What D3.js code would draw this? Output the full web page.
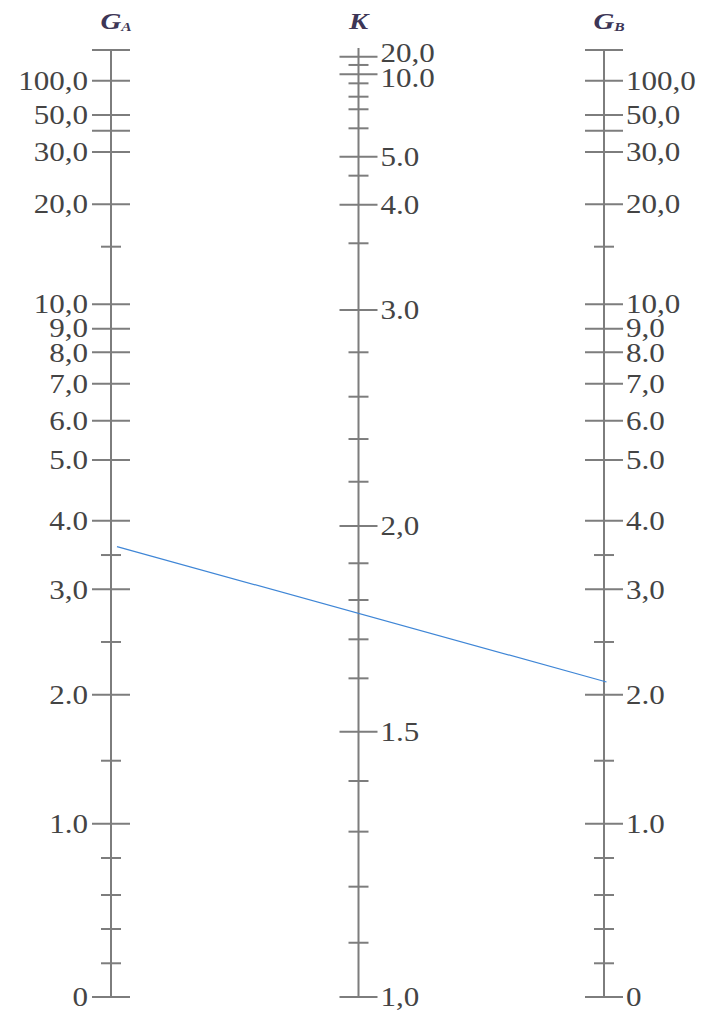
<!DOCTYPE html>
<html><head><meta charset="utf-8">
<script src="https://cdn.jsdelivr.net/npm/d3@7"></script>
<style>html,body{margin:0;padding:0;background:#fff;}svg{display:block;}</style>
</head><body>
<svg id="chart" width="709" height="1010"></svg>
<script>
// ---- Data ----
// G scale (both G_A and G_B)
const gMajorTicks = [0, 1, 2, 3, 4, 5, 6, 7, 8, 9, 10, 20, 30, 40, 50, 100, Infinity];
const gMinorTicks = [0.2, 0.4, 0.6, 0.8, 1.5, 2.5, 3.5, 15];
const gLabelValues = [100, 50, 30, 20, 10, 9, 8, 7, 6, 5, 4, 3, 2, 1, 0];
const gaLabels = ["100,0", "50,0", "30,0", "20,0", "10,0", "9,0", "8,0", "7,0", "6.0", "5.0", "4.0", "3,0", "2.0", "1.0", "0"];
const gbLabels = ["100,0", "50,0", "30,0", "20,0", "10,0", "9,0", "8.0", "7,0", "6.0", "5.0", "4.0", "3,0", "2.0", "1.0", "0"];
// K scale
const kMajorTicks = [1.0, 1.5, 2.0, 3.0, 4.0, 5.0, 10, 20];
const kMinorTicks = [1.1, 1.2, 1.3, 1.4, 1.6, 1.7, 1.8, 1.9, 2.2, 2.4, 2.6, 2.8, 3.5, 4.5, 6, 7, 8, 9, 15];
const kLabelValues = [20, 10, 5, 4, 3, 2, 1.5, 1];
const kLabels = ["20,0", "10.0", "5.0", "4.0", "3.0", "2,0", "1.5", "1,0"];
// Example alignment line
const exampleGA = 3.64;
const exampleGB = 2.12;

// ---- Nomograph scale calibration (value -> fraction of scale height) ----
const gKnots = [0, 0.2, 0.4, 0.6, 0.8, 1, 1.5, 2, 2.5, 3, 3.5, 4, 5, 6, 7, 8, 9, 10, 15, 20, 30, 40, 50, 100, Infinity];
const gKnotFrac = [0, 0.0356, 0.0718, 0.1077, 0.1468, 0.1830, 0.2495, 0.3192, 0.3749, 0.4305, 0.4667, 0.5030, 0.5671, 0.6086, 0.6476, 0.6808, 0.7057, 0.7315, 0.7923, 0.8371, 0.8923, 0.9148, 0.9314, 0.9676, 1];
const kKnots = [1.0, 1.1, 1.2, 1.3, 1.4, 1.5, 1.6, 1.7, 1.8, 1.9, 2.0, 2.2, 2.4, 2.6, 2.8, 3.0, 3.5, 4.0, 4.5, 5, 6, 7, 8, 9, 10, 15, 20, Infinity];
const kKnotFrac = [0, 0.0573, 0.1165, 0.1746, 0.2281, 0.2801, 0.3365, 0.3777, 0.4192, 0.4580, 0.4974, 0.5441, 0.5892, 0.6339, 0.6808, 0.7254, 0.7959, 0.8366, 0.8673, 0.8873, 0.9173, 0.9374, 0.9507, 0.9648, 0.9743, 0.9842, 0.9929, 1.002];

const tG = v => v === Infinity ? 1 : v / (v + 4);
const tK = v => v === Infinity ? 1 : 1 - 1 / v;

const svg = d3.select("#chart");
const yFrac = d3.scaleLinear().domain([0, 1]).range([997, 50]);
const gPiece = d3.scaleLinear().domain(gKnots.map(tG)).range(gKnotFrac);
const kPiece = d3.scaleLinear().domain(kKnots.map(tK)).range(kKnotFrac);
const yG = v => yFrac(gPiece(tG(v)));
const yK = v => yFrac(kPiece(tK(v)));

const xA = 111, xK = 358.5, xB = 604;
const axisColor = "#7d7d7d";
const textColor = "#444444";
const fontFam = "'Liberation Serif','Times New Roman',serif";
const majorLen = 19, minorLen = 10;
const stretch = 1.15;

function spreadLabels(items, minGap) {
  for (let i = 0; i < items.length - 1; i++) {
    const a = items[i], b = items[i + 1];
    const gap = b.y - a.y;
    if (gap < minGap) {
      const d = (minGap - gap) / 2;
      a.y -= d; b.y += d;
    }
  }
  return items;
}

function drawAxis(x, yScale, topVal, botVal, majors, minors, labelVals, labels, side) {
  const g = svg.append("g");
  g.append("line").attr("x1", x).attr("x2", x)
    .attr("y1", yScale(topVal)).attr("y2", yScale(botVal))
    .attr("stroke", axisColor).attr("stroke-width", 2);
  g.selectAll(".maj").data(majors).join("line")
    .attr("x1", x - majorLen).attr("x2", x + majorLen)
    .attr("y1", d => yScale(d)).attr("y2", d => yScale(d))
    .attr("stroke", axisColor).attr("stroke-width", 2);
  g.selectAll(".min").data(minors).join("line")
    .attr("x1", x - minorLen).attr("x2", x + minorLen)
    .attr("y1", d => yScale(d)).attr("y2", d => yScale(d))
    .attr("stroke", axisColor).attr("stroke-width", 2);
  let items = labelVals.map((v, i) => ({ v, text: labels[i], y: yScale(v) }));
  items.sort((a, b) => a.y - b.y);
  spreadLabels(items, 25);
  const lx = side === "left" ? x - 23 : x + 22;
  g.selectAll(".lab").data(items).join("text")
    .attr("transform", d => `translate(${lx},${d.y}) scale(${stretch},1)`)
    .attr("dy", "0.34em")
    .attr("text-anchor", side === "left" ? "end" : "start")
    .attr("font-family", fontFam).attr("font-size", 27)
    .attr("fill", textColor)
    .text(d => d.text);
}

drawAxis(xA, yG, Infinity, 0, gMajorTicks, gMinorTicks, gLabelValues, gaLabels, "left");
drawAxis(xB, yG, Infinity, 0, gMajorTicks, gMinorTicks, gLabelValues, gbLabels, "right");
drawAxis(xK, yK, Infinity, 1, kMajorTicks, kMinorTicks, kLabelValues, kLabels, "right");

// titles
const titleColor = "#3d3656";
function title(x, main, sub) {
  const t = svg.append("text")
    .attr("transform", `translate(${x},29) scale(1.2,1)`)
    .attr("text-anchor", "middle")
    .attr("font-family", fontFam).attr("font-style", "italic")
    .attr("font-weight", "bold")
    .attr("font-size", 24).attr("fill", titleColor);
  t.append("tspan").text(main);
  if (sub) t.append("tspan").attr("font-size", 13).attr("dy", 2).text(sub);
}
title(xA + 5, "G", "A");
title(xK, "K", null);
title(xB + 5, "G", "B");

// example alignment line
const p0 = [xA, yG(exampleGA)], p1 = [xB, yG(exampleGB)];
const L = p1[0] - p0[0];
const s0 = 6 / L, s1 = 1 + 2.5 / L;
const lerp = s => [p0[0] + (p1[0] - p0[0]) * s, p0[1] + (p1[1] - p0[1]) * s];
const a = lerp(s0), b = lerp(s1);
svg.append("line").attr("x1", a[0]).attr("y1", a[1]).attr("x2", b[0]).attr("y2", b[1])
  .attr("stroke", "#3f86d6").attr("stroke-width", 1.2);
</script>
</body></html>
